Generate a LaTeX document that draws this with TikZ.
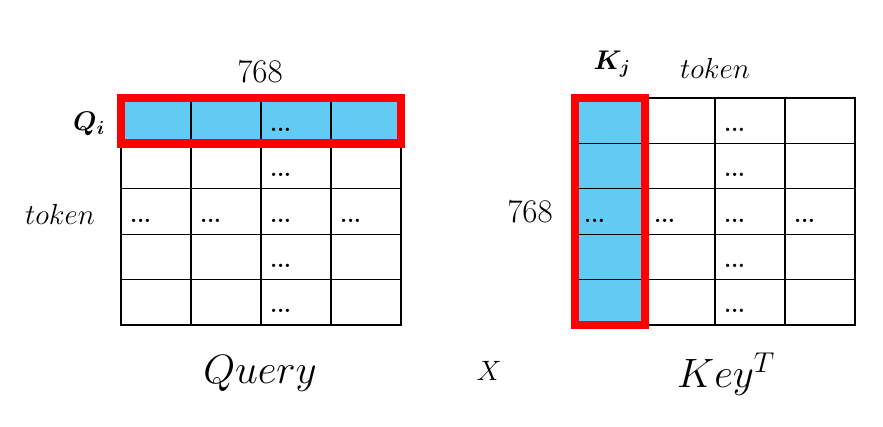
\RequirePackage{fix-cm}
\documentclass[tikz,border=0pt]{standalone}
\usepackage{amsmath}
\usepackage{bm}
\usetikzlibrary{positioning}
\definecolor{celeste}{RGB}{97,203,243}
\definecolor{rojo}{RGB}{255,0,0}
\newcommand{\trespuntos}{$.\kern-2.4pt.\kern-2.4pt.$}
\tikzset{
  celda/.style={
    draw=black,
    line width=1.1pt,
    fill=white,
    minimum width=70pt,
    minimum height=45.4pt,
    inner sep=0pt,
    outer sep=0pt
  },
  elegida/.style={
    celda,
    fill=celeste
  },
  marco/.style={
    draw=rojo,
    line width=8.5pt
  },
  puntos/.style={
    anchor=base west,
    inner sep=0pt,
    font=\fontsize{34}{40}\selectfont
  },
  etiqueta/.style={
    inner sep=0pt,
    font=\fontsize{29}{34}\selectfont
  },
  titulo/.style={
    anchor=base,
    inner sep=0pt,
    font=\fontsize{41}{48}\selectfont
  }
}

\begin{document}
\begin{tikzpicture}[x=1pt,y=-1pt]
\useasboundingbox (0,0) rectangle (883,427);
% matriz Query
\foreach \c in {1,...,4}
  \node[elegida] (q1\c) at ({86+70*\c},{98+45.4*0.5}) {};
\foreach \r in {2,...,5}
  \foreach \c in {1,...,4}
    \node[celda] (q\r\c) at ({86+70*\c},{98+45.4*(\r-0.5)}) {};
% matriz Key^T
\foreach \r in {1,...,5}
  \node[elegida] (k\r1) at ({540+70},{98+45.4*(\r-0.5)}) {};
\foreach \r in {1,...,5}
  \foreach \c in {2,...,4}
    \node[celda] (k\r\c) at ({540+70*\c},{98+45.4*(\r-0.5)}) {};
% puntos suspensivos
\foreach \m in {q,k}{
  \foreach \r in {1,2,4,5}
    \node[puntos] (d\m\r3) at ([xshift=8pt,yshift=12pt]\m\r3.south west) {\trespuntos};
  \foreach \c in {1,...,4}
    \node[puntos] (d\m3\c) at ([xshift=8pt,yshift=12pt]\m3\c.south west) {\trespuntos};
}
% recuadros rojos
\draw[marco] (q11.north west) rectangle (q14.south east);
\draw[marco] (k11.north west) rectangle (k51.south east);
% etiquetas
\node[etiqueta,font=\fontsize{33}{39}\selectfont] (dimq) at (260,72) {$768$};
\node[etiqueta,font=\fontsize{27}{32}\selectfont] (qi) at (89,124) {$\bm{Q_i}$};
\node[etiqueta] (tokq) at (60,214) {$token$};
\node[etiqueta,font=\fontsize{27}{32}\selectfont] (kj) at (612,64) {$\bm{K_j}$};
\node[etiqueta] (tokk) at (715,68) {$token$};
\node[etiqueta,font=\fontsize{33}{39}\selectfont] (dimk) at (530,212) {$768$};
\node[titulo] (query) at (260,383) {$Query$};
\node[titulo,font=\fontsize{28}{33}\selectfont] (por) at (489,380) {$X$};
\node[titulo] (key) at (726,387) {$Key^T$};
\end{tikzpicture}
\end{document}
